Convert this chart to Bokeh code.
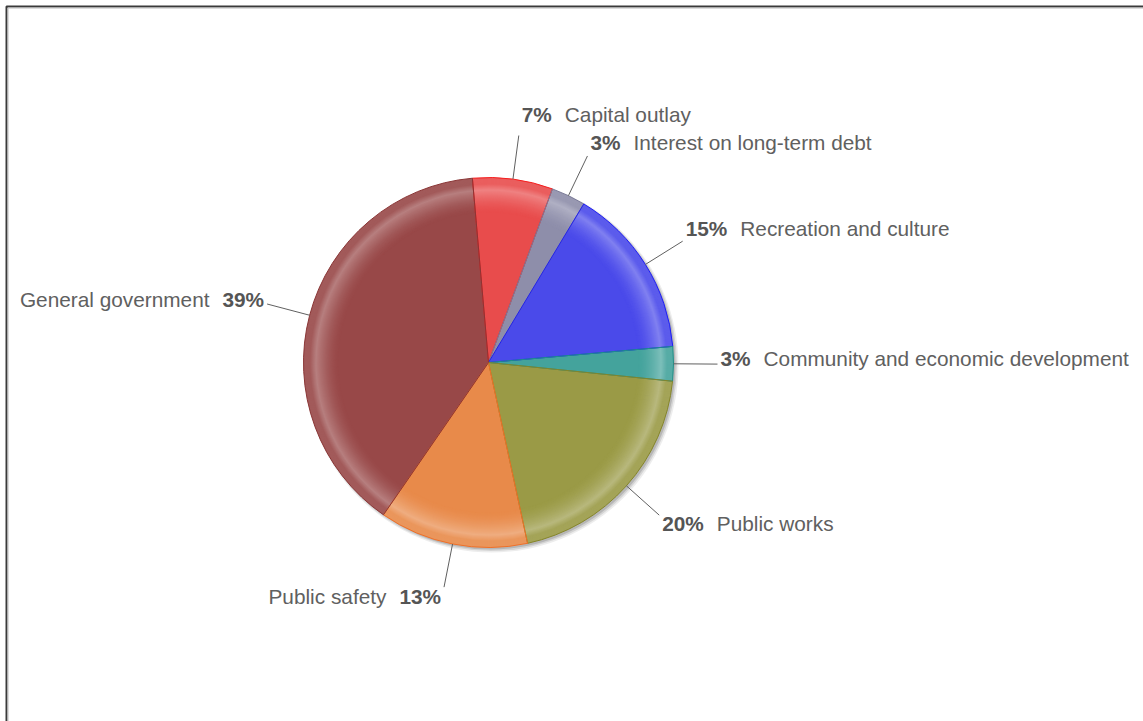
import math
from bokeh.plotting import figure
from bokeh.models import Range1d, ColumnDataSource
from bokeh.core.properties import value
from bokeh.embed import file_html
from bokeh.resources import INLINE

# ---- data ----
categories = ["Capital outlay", "Interest on long-term debt", "Recreation and culture",
              "Community and economic development", "Public works", "Public safety",
              "General government"]
shares = [7, 3, 15, 3, 20, 13, 39]
pct_labels = ["7%", "3%", "15%", "3%", "20%", "13%", "39%"]

# ---- styles / layout ----
colors = ["#e84c4c", "#8e8eaa", "#4a4aea", "#44a39c", "#9a9a46", "#e88a4a", "#984848"]
borders = ["#f51e1e", "#7a7a98", "#1e1ef5", "#1f8f88", "#85852a", "#f07028", "#8a3636"]
label_side = [1, 1, 1, 1, 1, -1, -1]
label_dy = [-21, -13, -13, -6, 8, 9, -5]   # screen px, down positive

W, H = 1143, 721
CX, CY, R = 488, H - 362, 185
START = 95.0   # math degrees, slices run clockwise
LEADER_R = 229
FONT = "Liberation Sans"
FS = 20.8
GAP = 13

p = figure(width=W, height=H, x_range=Range1d(0, W), y_range=Range1d(0, H),
           min_border=0, toolbar_location=None, output_backend="svg",
           x_axis_location=None, y_axis_location=None)
p.grid.visible = False
p.outline_line_color = None
p.background_fill_color = "white"
p.border_fill_color = "white"

# frame (left and top edges)
p.line([6, 6, W], [0, H - 6, H - 6], line_color="#3a3a3a", line_width=2)
p.line([7.5, 7.5, W], [0, H - 7.5, H - 7.5], line_color="#bbbbbb", line_width=1)

# shadow
for off, rr, a in [(3, 187, 0.07), (2.5, 186, 0.1), (2, 185, 0.14)]:
    p.circle([CX + off], [CY - off], radius=rr, fill_color="#000000", fill_alpha=a,
             line_color=None)

total = float(sum(shares))
starts, ends, mids = [], [], []
acc = 0.0
for s in shares:
    a0 = START - acc / total * 360.0
    acc += s
    a1 = START - acc / total * 360.0
    starts.append(a0)
    ends.append(a1)
    mids.append((a0 + a1) / 2.0)


def mix(hexc, t):
    hexc = hexc.lstrip("#")
    r, g, b = (int(hexc[i:i + 2], 16) for i in (0, 2, 4))
    r = round(r + (255 - r) * t)
    g = round(g + (255 - g) * t)
    b = round(b + (255 - b) * t)
    return "#%02x%02x%02x" % (r, g, b)


def ring_alpha(r):
    if r <= 150:
        return 0.0
    if r <= 173:
        return 0.30 * ((r - 150) / 23.0) ** 1.6
    if r <= 179:
        return 0.30 - (r - 173) / 6.0 * 0.20
    return 0.10


# shaded slices: discs from outer to inner
xs, ys, rads, sa, ea, fc = [], [], [], [], [], []
for rr in range(R, 149, -1):
    t = ring_alpha(rr)
    for i in range(len(shares)):
        xs.append(CX)
        ys.append(CY)
        rads.append(rr)
        sa.append(math.radians(starts[i]))
        ea.append(math.radians(ends[i]))
        fc.append(mix(colors[i], t))
src = ColumnDataSource(dict(x=xs, y=ys, r=rads, sa=sa, ea=ea, fc=fc))
p.wedge(x="x", y="y", radius="r", start_angle="sa", end_angle="ea", direction="clock",
        fill_color="fc", line_color=None, source=src)

# slice borders
bsrc = ColumnDataSource(dict(x=[CX] * len(shares), y=[CY] * len(shares),
                             sa=[math.radians(a) for a in starts],
                             ea=[math.radians(a) for a in ends], lc=borders))
p.wedge(x="x", y="y", radius=R, start_angle="sa", end_angle="ea", direction="clock",
        fill_color=None, line_color="lc", line_width=1, source=bsrc)

# leaders and labels
bold_w = {"%": 0.889}
for i, cat in enumerate(categories):
    m = math.radians(mids[i])
    x0, y0 = CX + R * math.cos(m), CY + R * math.sin(m)
    x1, y1 = CX + LEADER_R * math.cos(m), CY + LEADER_R * math.sin(m)
    p.line([x0, x1], [y0, y1], line_color="#606060", line_width=1)
    side = label_side[i]
    lx = x1 + 3 * side
    ly = y1 - label_dy[i]
    pw = sum(bold_w.get(ch, 0.556) for ch in pct_labels[i]) * FS
    if side > 0:
        px, nx, align = lx, lx + pw + GAP, "left"
    else:
        px, nx, align = lx, lx - pw - GAP, "right"
    p.text([px], [ly], text=[pct_labels[i]], text_font=value(FONT), text_font_size=f"{FS}px",
           text_font_style="bold", text_color="#555555", text_align=align,
           text_baseline="middle")
    p.text([nx], [ly], text=[cat], text_font=value(FONT), text_font_size=f"{FS}px",
           text_color="#606060", text_align=align, text_baseline="middle")

open("out.html", "w").write(file_html(p, INLINE))
